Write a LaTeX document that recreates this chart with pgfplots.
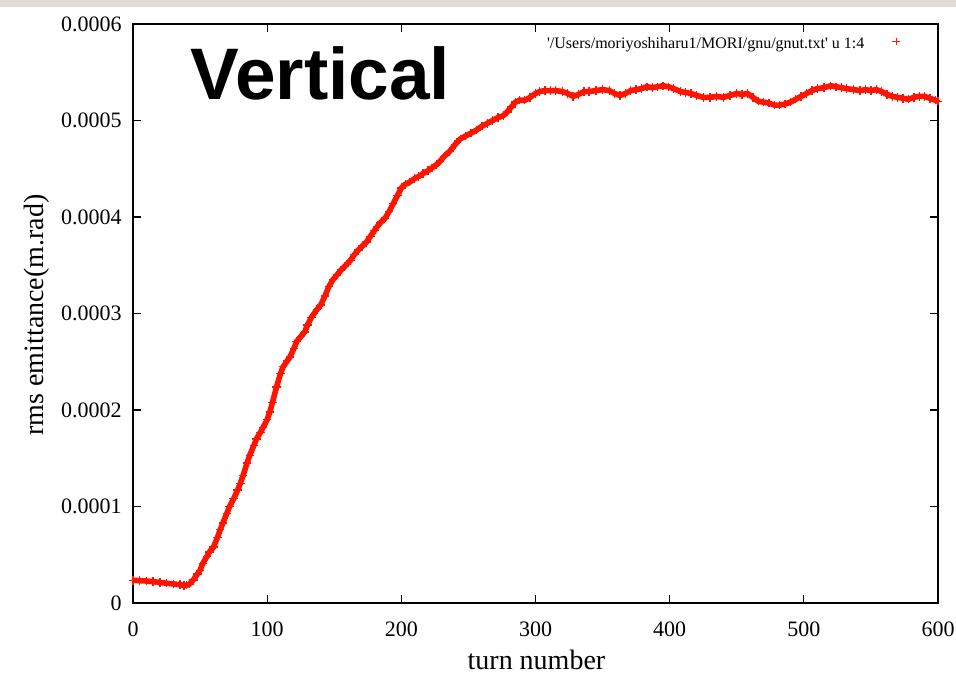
\documentclass[border=0pt]{standalone}
\usepackage{pgfplots}
\pgfplotsset{compat=1.18}
\usepackage{fontspec}
\setmainfont{Liberation Serif}
\newfontfamily\titlefont{Liberation Sans}
\definecolor{gpred}{RGB}{255,20,0}
\definecolor{barbg}{RGB}{224,221,216}

% rms vertical emittance per turn
\pgfplotstableread{
turn emit
0   2.35e-5
5   2.32e-5
10  2.28e-5
15  2.22e-5
20  2.13e-5
25  2.05e-5
30  1.98e-5
35  1.90e-5
38  1.82e-5
40  1.85e-5
42  1.95e-5
45  2.40e-5
48  3.00e-5
50  3.40e-5
52  4.10e-5
55  4.80e-5
57  5.30e-5
60  5.80e-5
63  6.80e-5
65  7.60e-5
67  8.30e-5
70  9.30e-5
72  1.00e-4
75  1.08e-4
78  1.17e-4
80  1.24e-4
82  1.32e-4
85  1.45e-4
87  1.53e-4
90  1.63e-4
92  1.70e-4
95  1.77e-4
97  1.82e-4
100 1.90e-4
102 1.98e-4
104 2.08e-4
107 2.24e-4
110 2.38e-4
112 2.45e-4
115 2.51e-4
117 2.55e-4
120 2.64e-4
122 2.71e-4
125 2.76e-4
128 2.81e-4
130 2.88e-4
133 2.96e-4
137 3.04e-4
140 3.09e-4
143 3.18e-4
146 3.28e-4
149 3.35e-4
152 3.40e-4
155 3.45e-4
158 3.49e-4
162 3.55e-4
165 3.61e-4
168 3.66e-4
171 3.70e-4
174 3.74e-4
177 3.80e-4
180 3.86e-4
182 3.90e-4
185 3.95e-4
188 3.99e-4
191 4.06e-4
194 4.14e-4
197 4.22e-4
200 4.30e-4
203 4.34e-4
206 4.36e-4
210 4.40e-4
213 4.42e-4
216 4.45e-4
220 4.48e-4
223 4.51e-4
226 4.54e-4
229 4.58e-4
232 4.63e-4
236 4.68e-4
240 4.75e-4
244 4.81e-4
248 4.84e-4
252 4.87e-4
256 4.90e-4
260 4.94e-4
264 4.97e-4
268 5.00e-4
272 5.03e-4
276 5.05e-4
279 5.09e-4
282 5.14e-4
285 5.19e-4
288 5.21e-4
292 5.21e-4
296 5.24e-4
300 5.28e-4
303 5.30e-4
307 5.31e-4
311 5.31e-4
315 5.31e-4
320 5.30e-4
324 5.28e-4
328 5.25e-4
332 5.27e-4
336 5.30e-4
340 5.30e-4
345 5.31e-4
350 5.32e-4
355 5.31e-4
359 5.28e-4
363 5.26e-4
367 5.28e-4
371 5.31e-4
375 5.32e-4
379 5.33e-4
383 5.35e-4
387 5.34e-4
391 5.35e-4
395 5.36e-4
399 5.35e-4
403 5.33e-4
408 5.30e-4
412 5.29e-4
416 5.28e-4
420 5.26e-4
425 5.24e-4
430 5.24e-4
435 5.25e-4
440 5.24e-4
445 5.26e-4
450 5.28e-4
454 5.27e-4
458 5.28e-4
462 5.24e-4
466 5.20e-4
470 5.19e-4
474 5.18e-4
478 5.16e-4
482 5.16e-4
486 5.17e-4
490 5.19e-4
494 5.22e-4
498 5.25e-4
502 5.28e-4
506 5.31e-4
510 5.33e-4
515 5.34e-4
520 5.36e-4
524 5.35e-4
528 5.34e-4
532 5.33e-4
537 5.32e-4
542 5.31e-4
546 5.32e-4
550 5.31e-4
554 5.32e-4
558 5.30e-4
562 5.27e-4
566 5.25e-4
570 5.24e-4
574 5.23e-4
578 5.22e-4
582 5.24e-4
586 5.25e-4
590 5.25e-4
594 5.23e-4
598 5.21e-4
600 5.20e-4
}\emittance

\begin{document}
\begin{tikzpicture}[x=1pt,y=1pt]
\path[use as bounding box] (0,0) rectangle (478,338);
\fill[barbg] (0,334.5) rectangle (478,338);
\begin{axis}[
  at={(66.5pt,36.5pt)}, anchor=south west,
  scale only axis, width=402.5pt, height=289.5pt,
  xmin=0, xmax=600, ymin=0, ymax=0.0006,
  xtick={0,100,200,300,400,500,600},
  ytick={0,0.0001,0.0002,0.0003,0.0004,0.0005,0.0006},
  yticklabels={0,0.0001,0.0002,0.0003,0.0004,0.0005,0.0006},
  scaled y ticks=false,
  tick align=inside, major tick length=4pt,
  axis line style={black, line width=0.8pt},
  every tick/.style={black, line width=0.6pt},
  /pgf/number format/assume math mode=true,
  tick label style={font=\fontsize{11}{13}\selectfont},
  xticklabel style={anchor=base, inner sep=0pt, yshift=-16.5pt},
  yticklabel style={anchor=east, inner sep=0pt, xshift=-5.5pt},
  xlabel={turn number},
  ylabel={rms emittance(m.rad)},
  label style={font=\fontsize{14}{16}\selectfont, inner sep=0pt},
  xlabel style={at={(axis description cs:0.5012,-0.114)}, anchor=base},
  ylabel style={at={(axis description cs:-0.1118,0.4974)}, anchor=base},
  clip=false,
  legend plot pos=right,
  legend image code/.code={\draw[mark repeat=1,mark phase=1,#1,mark size=1.8pt,
    mark options={line width=0.45pt}] plot coordinates {(0pt,1.2pt)};},
  legend style={at={(1,1)}, anchor=north east, xshift=-19pt, yshift=-6.4pt,
    draw=none, fill=none, inner sep=0pt, column sep=14pt,
    nodes={inner sep=0pt}, font=\fontsize{8}{9.6}\selectfont},
]
\addplot[color=gpred, line width=2.8pt, mark=+, mark size=2.1pt,
  mark options={line width=0.7pt}] table[x=turn, y=emit] {\emittance};
\addlegendentry{\textquotesingle/Users/moriyoshiharu1/MORI/gnu/gnut.txt\textquotesingle\ u 1:4}
\end{axis}
\node[anchor=base west, inner sep=0pt, font=\titlefont\bfseries\fontsize{36.5}{40}\selectfont] at (95,288) {Vertical};
\end{tikzpicture}
\end{document}
